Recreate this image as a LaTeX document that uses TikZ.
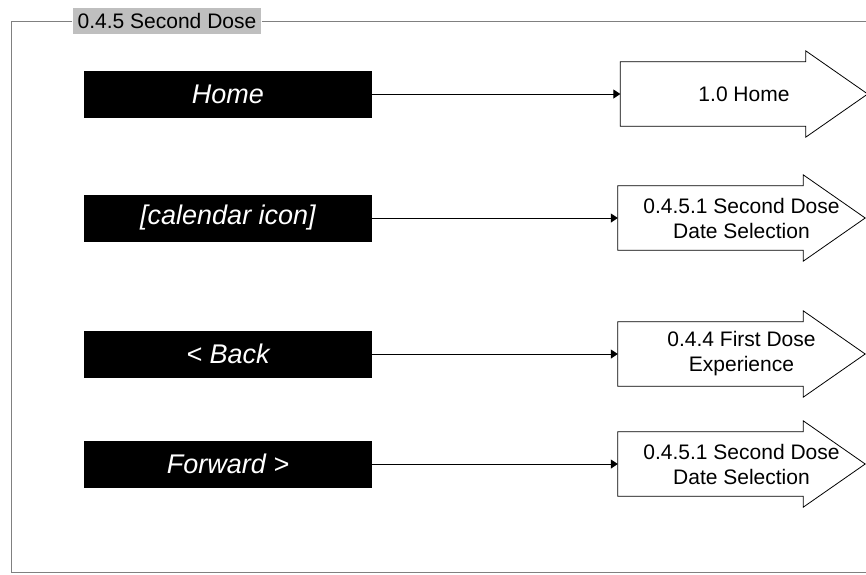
\documentclass[tikz,border=0pt]{standalone}
\usepackage{fontspec}
\setmainfont{Liberation Sans}
\usetikzlibrary{arrows.meta}

\begin{document}
\begin{tikzpicture}[x=1pt, y=-1pt,
    button/.style={fill=black, text=white, inner sep=0pt,
      minimum width=288pt, minimum height=47pt,
      font=\fontsize{27}{32}\selectfont\itshape},
    dest/.style={inner sep=0pt, minimum width=247pt, minimum height=64pt,
      align=center, font=\fontsize{21}{25}\selectfont},
    link/.style={line width=1pt, -{Triangle[length=7pt, width=9pt]}},
    frame/.style={draw=black!50, line width=1pt}]
  \useasboundingbox (0,0) rectangle (866,574);
  % frame and title
  \node[fill=black!25, inner xsep=5pt, inner ysep=0pt, minimum height=26pt,
    font=\fontsize{21}{25}\selectfont] (title) at (167,21) {0.4.5 Second Dose};
  \coordinate (tr) at (866,21);
  \coordinate (bl) at (11.5,572);
  \coordinate (br) at (866,572);
  \draw[frame] (title.west) -| (bl) -- (br);
  \draw[frame] (title.east) -- (tr);
  % buttons
  \node[button] (home) at (228,94) {Home};
  \node[button] (cal)  at (228,218) {[calendar icon]};
  \node[button] (back) at (228,354) {< Back};
  \node[button] (fwd)  at (228,464) {Forward >};
  % targets
  \node[dest] (homedest) at (744,94) {1.0 Home};
  \node[dest] (caldest)  at (741.5,218) {0.4.5.1 Second Dose\\Date Selection};
  \node[dest] (backdest) at (741.5,354) {0.4.4 First Dose\\Experience};
  \node[dest] (fwddest)  at (741.5,464) {0.4.5.1 Second Dose\\Date Selection};
  \foreach \n in {homedest,caldest,backdest,fwddest}
    \draw[line width=0.8pt] (\n.north west) -- ([xshift=-62pt]\n.north east)
      -- ++(0,-11) -- (\n.east) -- ([xshift=-62pt,yshift=-11pt]\n.south east)
      -- ++(0,-11) -- (\n.south west) -- cycle;
  % links
  \draw[link] (home) -- (homedest);
  \draw[link] (cal) -- (caldest);
  \draw[link] (back) -- (backdest);
  \draw[link] (fwd) -- (fwddest);
\end{tikzpicture}
\end{document}
